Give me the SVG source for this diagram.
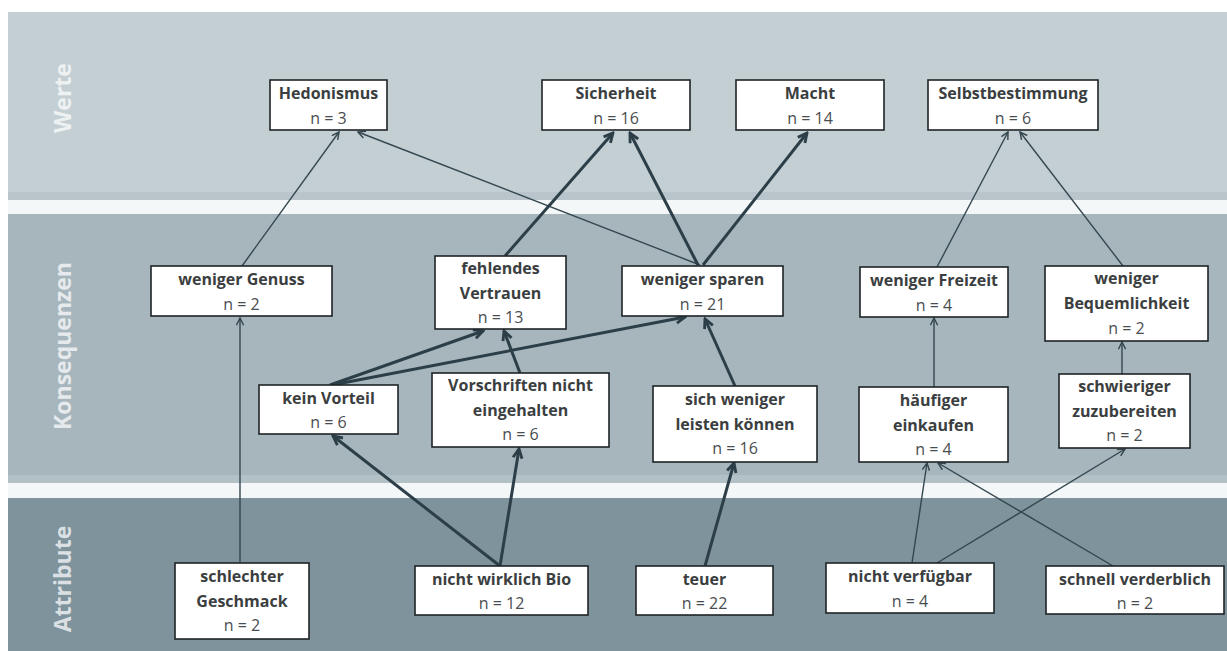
<svg xmlns="http://www.w3.org/2000/svg" width="1227" height="651" viewBox="0 0 1227 651">
<style>
.node rect{fill:#ffffff;stroke:#1f2326;stroke-width:1.6}
.t{font-family:"Open Sans","Liberation Sans",sans-serif;font-size:16px;font-weight:700;fill:#3b3e40;text-anchor:middle}
.n{font-family:"Open Sans","Liberation Sans",sans-serif;font-size:16px;font-weight:400;fill:#4a4d50;text-anchor:middle}
.band{font-family:"Open Sans","Liberation Sans",sans-serif;font-size:23px;font-weight:700;fill:#ffffff;fill-opacity:0.72;text-anchor:middle}
.thin{stroke:#34474f;stroke-width:1.4;fill:none;marker-end:url(#aThin)}
.thick{stroke:#2c3f48;stroke-width:3;fill:none;marker-end:url(#aThick)}
</style>
<defs>
<marker id="aThin" viewBox="0 0 10 10" refX="9" refY="5" markerUnits="userSpaceOnUse" markerWidth="9" markerHeight="9" orient="auto">
<path d="M1,1 L9,5 L1,9" fill="none" stroke="#34474f" stroke-width="1.6"/>
</marker>
<marker id="aThick" viewBox="0 0 10 10" refX="8.5" refY="5" markerUnits="userSpaceOnUse" markerWidth="13" markerHeight="13" orient="auto">
<path d="M1.5,1.5 L8.5,5 L1.5,8.5" fill="none" stroke="#2c3f48" stroke-width="2.2"/>
</marker>
</defs>
<rect x="0" y="0" width="1227" height="651" fill="#ffffff"/>
<g id="bands">
<rect x="8" y="12" width="1219" height="188" fill="#c4cfd4"/>
<rect x="8" y="192" width="1219" height="8" fill="#b9c5cb"/>
<rect x="8" y="200" width="1219" height="14" fill="#f4f7f8"/>
<rect x="8" y="214" width="1219" height="269" fill="#a7b6bd"/>
<rect x="8" y="475" width="1219" height="8" fill="#b3c1c7"/>
<rect x="8" y="483" width="1219" height="15" fill="#f4f7f8"/>
<rect x="8" y="498" width="1219" height="153" fill="#7e939c"/>
<text class="band" transform="translate(71,98) rotate(-90)">Werte</text>
<text class="band" transform="translate(71,346) rotate(-90)">Konsequenzen</text>
<text class="band" transform="translate(71,579) rotate(-90)">Attribute</text>
</g>
<g id="connectors">
<line class="thin" x1="242" y1="266" x2="339" y2="132"/>
<line class="thin" x1="700" y1="265" x2="358" y2="132"/>
<line class="thick" x1="505" y1="256" x2="613" y2="133"/>
<line class="thick" x1="698" y1="265" x2="630" y2="133"/>
<line class="thick" x1="703" y1="265" x2="807" y2="133"/>
<line class="thin" x1="937" y1="267" x2="1008" y2="132"/>
<line class="thin" x1="1123" y1="266" x2="1020" y2="132"/>
<line class="thin" x1="240" y1="563" x2="240" y2="318"/>
<line class="thick" x1="330" y1="385" x2="483" y2="331"/>
<line class="thick" x1="332" y1="385" x2="685" y2="317"/>
<line class="thick" x1="520" y1="373" x2="504" y2="331"/>
<line class="thick" x1="735" y1="386" x2="705" y2="319"/>
<line class="thick" x1="500" y1="566" x2="333" y2="436"/>
<line class="thick" x1="500" y1="566" x2="519" y2="449"/>
<line class="thick" x1="705" y1="566" x2="734" y2="463"/>
<line class="thin" x1="934" y1="387" x2="934" y2="318"/>
<line class="thin" x1="1122" y1="374" x2="1122" y2="342"/>
<line class="thin" x1="912" y1="563" x2="927" y2="463"/>
<line class="thin" x1="937" y1="563" x2="1125" y2="449"/>
<line class="thin" x1="1113" y1="566" x2="938" y2="463"/>
</g>
<g id="n-hedonismus" class="node"><rect x="270" y="80" width="117" height="50"/><text class="t" x="328.5" y="98.5">Hedonismus</text><text class="n" x="328.5" y="123.5">n = 3</text></g>
<g id="n-sicherheit" class="node"><rect x="542" y="80" width="148" height="50"/><text class="t" x="616" y="98.5">Sicherheit</text><text class="n" x="616" y="123.5">n = 16</text></g>
<g id="n-macht" class="node"><rect x="736" y="80" width="148" height="50"/><text class="t" x="810" y="98.5">Macht</text><text class="n" x="810" y="123.5">n = 14</text></g>
<g id="n-selbstbestimmung" class="node"><rect x="928" y="80" width="170" height="50"/><text class="t" x="1013" y="98.5">Selbstbestimmung</text><text class="n" x="1013" y="123.5">n = 6</text></g>
<g id="n-weniger-genuss" class="node"><rect x="151" y="266" width="181" height="50"/><text class="t" x="241.5" y="284.5">weniger Genuss</text><text class="n" x="241.5" y="309.5">n = 2</text></g>
<g id="n-fehlendes-vertrauen" class="node"><rect x="435" y="256" width="131" height="73"/><text class="t" x="500.5" y="273.5">fehlendes</text><text class="t" x="500.5" y="298.5">Vertrauen</text><text class="n" x="500.5" y="322.5">n = 13</text></g>
<g id="n-weniger-sparen" class="node"><rect x="622" y="266" width="161" height="50"/><text class="t" x="702.5" y="284.5">weniger sparen</text><text class="n" x="702.5" y="309.5">n = 21</text></g>
<g id="n-weniger-freizeit" class="node"><rect x="860" y="267" width="148" height="50"/><text class="t" x="934" y="285.5">weniger Freizeit</text><text class="n" x="934" y="310.5">n = 4</text></g>
<g id="n-weniger-bequemlichkeit" class="node"><rect x="1045" y="266" width="163" height="75"/><text class="t" x="1126.5" y="284">weniger</text><text class="t" x="1126.5" y="309">Bequemlichkeit</text><text class="n" x="1126.5" y="333.5">n = 2</text></g>
<g id="n-kein-vorteil" class="node"><rect x="259" y="385" width="139" height="49"/><text class="t" x="328.5" y="403.5">kein Vorteil</text><text class="n" x="328.5" y="428">n = 6</text></g>
<g id="n-vorschriften" class="node"><rect x="432" y="373" width="177" height="74"/><text class="t" x="520.5" y="391">Vorschriften nicht</text><text class="t" x="520.5" y="416">eingehalten</text><text class="n" x="520.5" y="440">n = 6</text></g>
<g id="n-sich-weniger-leisten" class="node"><rect x="653" y="386" width="164" height="76"/><text class="t" x="735" y="404.5">sich weniger</text><text class="t" x="735" y="429.5">leisten können</text><text class="n" x="735" y="454">n = 16</text></g>
<g id="n-haeufiger-einkaufen" class="node"><rect x="859" y="387" width="149" height="75"/><text class="t" x="933.5" y="405.5">häufiger</text><text class="t" x="933.5" y="430.5">einkaufen</text><text class="n" x="933.5" y="455">n = 4</text></g>
<g id="n-schwieriger" class="node"><rect x="1059" y="374" width="131" height="74"/><text class="t" x="1124.5" y="392">schwieriger</text><text class="t" x="1124.5" y="417">zuzubereiten</text><text class="n" x="1124.5" y="441">n = 2</text></g>
<g id="n-schlechter-geschmack" class="node"><rect x="175" y="563" width="134" height="76"/><text class="t" x="242" y="581.5">schlechter</text><text class="t" x="242" y="606.5">Geschmack</text><text class="n" x="242" y="631">n = 2</text></g>
<g id="n-nicht-wirklich-bio" class="node"><rect x="415" y="566" width="173" height="49"/><text class="t" x="501.5" y="584.5">nicht wirklich Bio</text><text class="n" x="501.5" y="609">n = 12</text></g>
<g id="n-teuer" class="node"><rect x="636" y="566" width="137" height="49"/><text class="t" x="704.5" y="584.5">teuer</text><text class="n" x="704.5" y="609">n = 22</text></g>
<g id="n-nicht-verfuegbar" class="node"><rect x="826" y="563" width="168" height="50"/><text class="t" x="910" y="581.5">nicht verfügbar</text><text class="n" x="910" y="606.5">n = 4</text></g>
<g id="n-schnell-verderblich" class="node"><rect x="1046" y="566" width="178" height="48"/><text class="t" x="1135" y="584.5">schnell verderblich</text><text class="n" x="1135" y="609">n = 2</text></g>
</svg>
